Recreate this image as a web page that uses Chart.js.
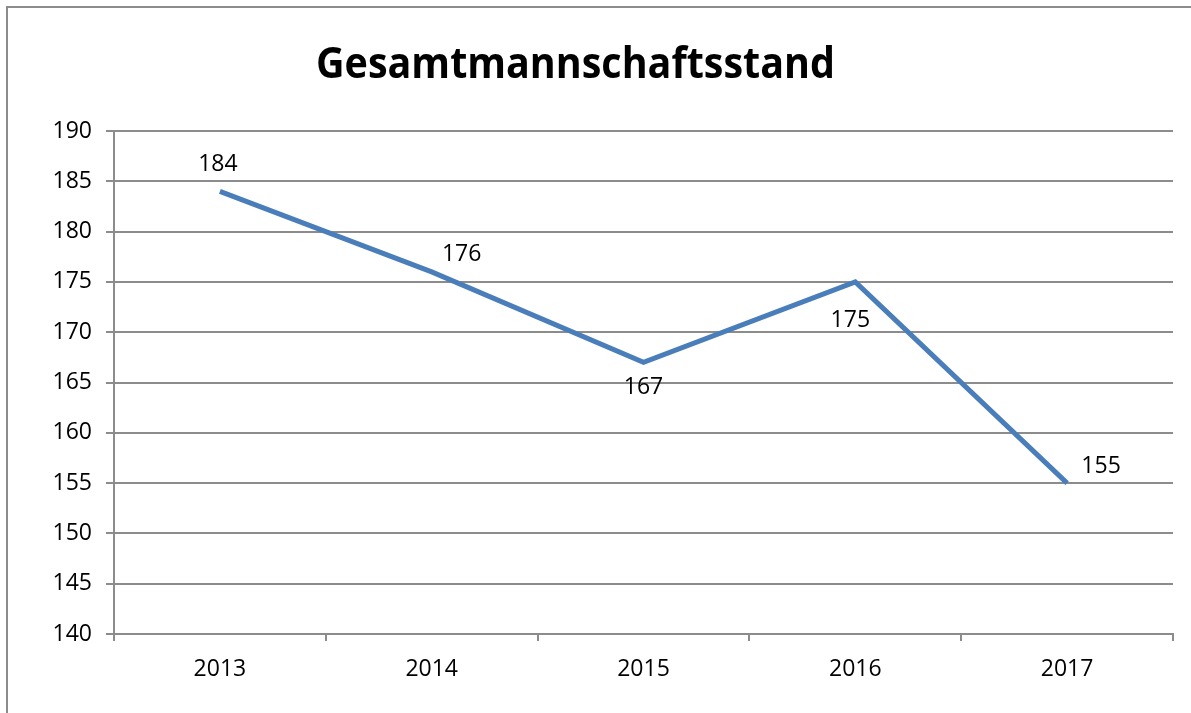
<!DOCTYPE html>
<html><head><meta charset="utf-8">
<script src="https://cdn.jsdelivr.net/npm/chart.js@4"></script>
<style>html,body{margin:0;padding:0;background:#fff;overflow:hidden}#wrap{position:absolute;left:0;top:0;width:1191px;height:713px}</style>
</head><body><div id="wrap"><canvas id="c" width="1191" height="713"></canvas></div>
<script>
const titleText = 'Gesamtmannschaftsstand';
const years = ['2013','2014','2015','2016','2017'];
const values = [184, 176, 167, 175, 155];
const yTicks = [140,145,150,155,160,165,170,175,180,185,190];

const FONT = "'Open Sans', sans-serif";
const labelOffsets = [[-2,-27],[30,-17],[0,25],[-5,39],[34,-17]];

const boxPlugin = {
  id:'box',
  beforeDraw(chart){
    const ctx = chart.ctx;
    ctx.save();
    ctx.fillStyle='#fff';ctx.fillRect(0,0,chart.width,chart.height);
    ctx.strokeStyle='#8c8c8c';ctx.lineWidth=2;
    ctx.strokeRect(7,7,1400,900);
    ctx.restore();
  },
  afterDraw(chart){
    const ctx = chart.ctx;
    ctx.save();
    ctx.font = "bold 43px " + FONT;
    ctx.fillStyle = '#000';
    ctx.textAlign='center';ctx.textBaseline='alphabetic';
    const w = ctx.measureText(titleText).width;
    const sx = 519 / w;
    ctx.translate(575.5, 78);
    ctx.scale(sx, 1);
    ctx.fillText(titleText, 0, 0);
    ctx.restore();
  }
};
const labelPlugin = {
  id:'dl',
  afterDatasetsDraw(chart){
    const ctx = chart.ctx;
    const meta = chart.getDatasetMeta(0);
    ctx.save();
    ctx.font = "23px " + FONT;
    ctx.fillStyle = '#000';
    ctx.textAlign='center';ctx.textBaseline='middle';
    meta.data.forEach((pt,i)=>{
      const o = labelOffsets[i];
      ctx.fillText(String(values[i]), pt.x+o[0], pt.y+o[1]);
    });
    ctx.restore();
  }
};

new Chart(document.getElementById('c'),{
  type:'line',
  data:{labels:years,datasets:[{data:values,borderColor:'#4a7ebb',borderWidth:5,pointRadius:0,tension:0,fill:false}]},
  options:{
    responsive:false,animation:false,
    layout:{padding:{left:0,right:18,top:131,bottom:0}},
    plugins:{legend:{display:false},tooltip:{enabled:false},title:{display:false}},
    scales:{
      y:{min:140,max:190,
        afterBuildTicks(s){s.ticks=yTicks.map(v=>({value:v}));},
        afterFit(s){s.width=114;},
        ticks:{color:'#000',font:{family:FONT,size:23},padding:14},
        grid:{color:'#8c8c8c',lineWidth:2,tickLength:8,drawTicks:true},
        border:{color:'#8c8c8c',width:2}},
      x:{offset:true,
        afterFit(s){s.height=79;},
        ticks:{color:'#000',font:{family:FONT,size:23},padding:15},
        grid:{offset:true,drawOnChartArea:false,color:'#8c8c8c',lineWidth:2,tickLength:7},
        border:{color:'#8c8c8c',width:2}}
    }
  },
  plugins:[boxPlugin,labelPlugin]
});
</script></body></html>
